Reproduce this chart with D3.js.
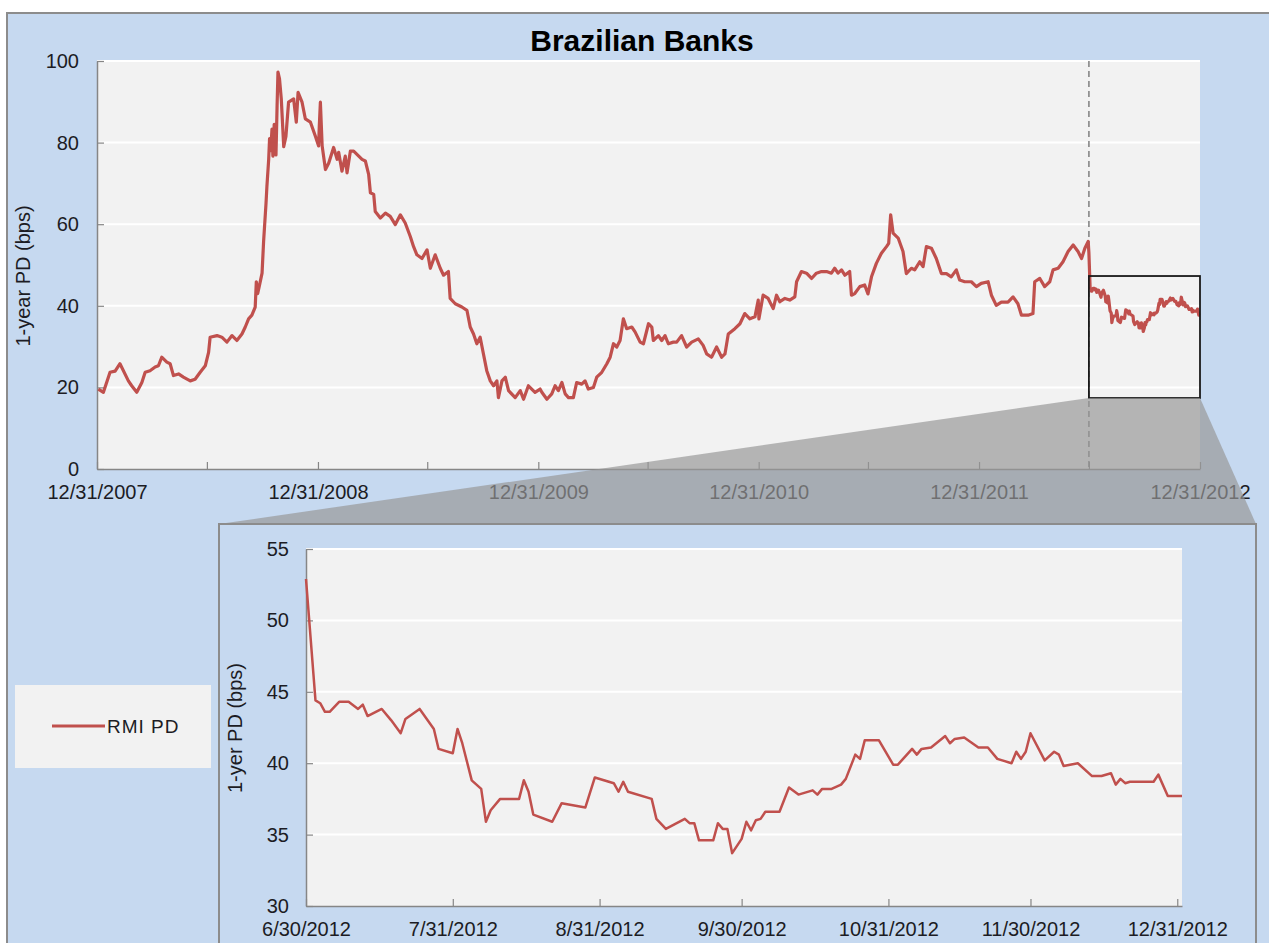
<!DOCTYPE html>
<html>
<head>
<meta charset="utf-8">
<script src="https://cdn.jsdelivr.net/npm/d3@7"></script>
<style>
  body { margin: 0; background: #fff; }
  text { font-family: "Liberation Sans", Arial, sans-serif; }
</style>
</head>
<body>
<div id="chart"></div>
<script>

// RMI PD history, Dec 2007 - Jun 2012 (decimal year, bps)
var rmiHistory = [
  [2008.006,19.6],[2008.029,18.8],[2008.059,23.7],[2008.082,24.0],[2008.104,25.8],[2008.142,21.6],
  [2008.157,20.4],[2008.180,18.8],[2008.203,21.2],[2008.218,23.7],[2008.240,24.1],[2008.263,25.0],
  [2008.278,25.3],[2008.293,27.4],[2008.316,26.2],[2008.331,25.8],[2008.346,22.9],[2008.369,23.3],
  [2008.391,22.5],[2008.422,21.6],[2008.444,22.0],[2008.467,23.7],[2008.490,25.3],[2008.505,28.6],
  [2008.512,32.3],[2008.543,32.7],[2008.565,32.3],[2008.588,31.1],[2008.611,32.7],[2008.633,31.5],
  [2008.656,33.1],[2008.671,34.8],[2008.686,36.8],[2008.701,37.7],[2008.716,39.7],[2008.721,45.9],
  [2008.727,43.0],[2008.734,44.7],[2008.747,48.0],[2008.754,55.8],[2008.765,65.2],[2008.769,69.3],
  [2008.777,75.9],[2008.781,81.0],[2008.786,78.0],[2008.792,83.3],[2008.796,76.7],[2008.802,84.5],
  [2008.810,77.0],[2008.815,89.0],[2008.819,97.3],[2008.826,95.6],[2008.834,90.7],[2008.845,79.0],
  [2008.855,81.5],[2008.867,89.9],[2008.890,90.7],[2008.902,85.0],[2008.910,92.3],[2008.928,89.9],
  [2008.943,85.8],[2008.966,85.0],[2008.988,81.6],[2009.003,79.2],[2009.006,84.0],[2009.011,89.9],
  [2009.019,79.2],[2009.034,73.4],[2009.049,75.0],[2009.071,78.8],[2009.087,75.9],[2009.094,77.6],
  [2009.109,73.0],[2009.124,76.7],[2009.132,72.6],[2009.147,77.9],[2009.162,77.9],[2009.185,76.7],
  [2009.200,75.9],[2009.215,75.5],[2009.230,72.2],[2009.238,67.7],[2009.253,67.3],[2009.260,63.1],
  [2009.283,61.5],[2009.306,62.7],[2009.328,61.9],[2009.351,59.9],[2009.374,62.3],[2009.396,60.3],
  [2009.419,57.0],[2009.434,54.5],[2009.449,52.5],[2009.472,51.6],[2009.495,53.7],[2009.510,49.2],
  [2009.532,52.5],[2009.555,49.2],[2009.570,47.5],[2009.592,48.4],[2009.600,41.8],[2009.623,40.5],
  [2009.653,39.7],[2009.676,38.9],[2009.691,34.8],[2009.706,33.1],[2009.721,30.7],[2009.736,32.3],
  [2009.751,28.2],[2009.766,24.1],[2009.782,21.6],[2009.797,20.4],[2009.812,21.6],[2009.819,17.5],
  [2009.835,21.6],[2009.850,22.5],[2009.865,19.2],[2009.895,17.5],[2009.918,19.2],[2009.933,17.1],
  [2009.955,20.4],[2009.985,18.8],[2010.008,19.6],[2010.016,18.8],[2010.039,17.1],[2010.061,18.4],
  [2010.076,20.4],[2010.091,19.2],[2010.107,21.2],[2010.122,18.4],[2010.137,17.5],[2010.159,17.5],
  [2010.174,21.2],[2010.197,20.8],[2010.212,21.6],[2010.227,19.6],[2010.250,20.0],[2010.265,22.5],
  [2010.288,23.7],[2010.311,25.8],[2010.326,27.4],[2010.341,30.7],[2010.356,29.9],[2010.371,31.5],
  [2010.386,36.8],[2010.401,34.4],[2010.424,34.8],[2010.439,33.6],[2010.462,31.1],[2010.477,30.7],
  [2010.500,35.6],[2010.515,34.8],[2010.522,31.5],[2010.545,32.7],[2010.560,31.5],[2010.575,32.7],
  [2010.590,30.7],[2010.613,31.1],[2010.628,31.1],[2010.650,32.7],[2010.673,29.9],[2010.696,31.1],
  [2010.726,31.9],[2010.748,30.3],[2010.764,28.2],[2010.786,27.4],[2010.809,29.9],[2010.832,27.4],
  [2010.847,28.2],[2010.862,33.1],[2010.892,34.4],[2010.915,35.6],[2010.937,38.1],[2010.960,36.8],
  [2010.983,37.3],[2010.998,41.4],[2011.001,36.8],[2011.020,42.6],[2011.043,41.8],[2011.066,39.3],
  [2011.081,42.6],[2011.096,41.0],[2011.119,41.8],[2011.141,41.4],[2011.164,42.2],[2011.172,45.9],
  [2011.194,48.4],[2011.217,48.0],[2011.240,46.7],[2011.262,48.0],[2011.285,48.4],[2011.308,48.4],
  [2011.330,48.0],[2011.345,49.2],[2011.360,48.0],[2011.376,48.8],[2011.391,47.5],[2011.413,48.4],
  [2011.421,42.6],[2011.436,43.0],[2011.459,44.7],[2011.481,45.1],[2011.496,42.9],[2011.512,47.1],
  [2011.534,50.4],[2011.557,52.9],[2011.580,54.5],[2011.590,55.3],[2011.599,62.3],[2011.610,57.8],
  [2011.633,56.6],[2011.655,53.3],[2011.670,47.9],[2011.693,49.2],[2011.708,48.8],[2011.731,50.8],
  [2011.746,49.6],[2011.761,54.5],[2011.784,54.1],[2011.806,51.6],[2011.829,47.9],[2011.852,47.9],
  [2011.874,47.1],[2011.897,48.8],[2011.912,46.3],[2011.935,45.9],[2011.965,45.9],[2011.988,44.7],
  [2012.010,45.5],[2012.041,45.9],[2012.056,42.6],[2012.078,40.1],[2012.101,40.9],[2012.131,40.9],
  [2012.154,42.2],[2012.176,40.5],[2012.192,37.7],[2012.222,37.7],[2012.244,38.1],[2012.252,45.9],
  [2012.275,46.7],[2012.297,44.7],[2012.320,45.9],[2012.335,48.8],[2012.358,49.2],[2012.380,50.8],
  [2012.403,53.3],[2012.426,54.9],[2012.448,53.3],[2012.464,51.6],[2012.479,54.1],[2012.494,55.8]
];

// RMI PD daily, Jun 30 2012 - Dec 31 2012 (date, bps)
var rmiZoom = [
  ["2012-06-30",52.9],["2012-07-02",44.4],["2012-07-03",44.2],["2012-07-04",43.6],["2012-07-05",43.6],
  ["2012-07-07",44.3],["2012-07-09",44.3],["2012-07-11",43.8],["2012-07-12",44.1],["2012-07-13",43.3],
  ["2012-07-16",43.8],["2012-07-18",43.0],["2012-07-20",42.1],["2012-07-21",43.1],["2012-07-24",43.8],
  ["2012-07-27",42.4],["2012-07-28",41.0],["2012-07-31",40.7],["2012-08-01",42.4],["2012-08-02",41.4],
  ["2012-08-04",38.8],["2012-08-06",38.2],["2012-08-07",35.9],["2012-08-08",36.7],["2012-08-10",37.5],
  ["2012-08-14",37.5],["2012-08-15",38.8],["2012-08-16",38.0],["2012-08-17",36.4],["2012-08-21",35.9],
  ["2012-08-23",37.2],["2012-08-28",36.9],["2012-08-30",39.0],["2012-09-03",38.6],["2012-09-04",38.0],
  ["2012-09-05",38.7],["2012-09-06",38.0],["2012-09-11",37.5],["2012-09-12",36.1],["2012-09-14",35.4],
  ["2012-09-18",36.1],["2012-09-19",35.8],["2012-09-20",35.8],["2012-09-21",34.6],["2012-09-24",34.6],
  ["2012-09-25",35.8],["2012-09-26",35.4],["2012-09-27",35.4],["2012-09-28",33.7],["2012-09-30",34.7],
  ["2012-10-01",35.9],["2012-10-02",35.3],["2012-10-03",36.0],["2012-10-04",36.1],["2012-10-05",36.6],
  ["2012-10-08",36.6],["2012-10-10",38.3],["2012-10-12",37.8],["2012-10-15",38.1],["2012-10-16",37.8],
  ["2012-10-17",38.2],["2012-10-19",38.2],["2012-10-21",38.5],["2012-10-22",38.9],["2012-10-24",40.6],
  ["2012-10-25",40.3],["2012-10-26",41.6],["2012-10-29",41.6],["2012-11-01",39.9],["2012-11-02",39.9],
  ["2012-11-05",41.0],["2012-11-06",40.6],["2012-11-07",41.0],["2012-11-09",41.1],["2012-11-12",41.9],
  ["2012-11-13",41.4],["2012-11-14",41.7],["2012-11-16",41.8],["2012-11-19",41.1],["2012-11-21",41.1],
  ["2012-11-23",40.3],["2012-11-26",40.0],["2012-11-27",40.8],["2012-11-28",40.3],["2012-11-29",40.8],
  ["2012-11-30",42.1],["2012-12-03",40.2],["2012-12-05",40.8],["2012-12-06",40.6],["2012-12-07",39.8],
  ["2012-12-10",40.0],["2012-12-13",39.1],["2012-12-15",39.1],["2012-12-17",39.3],["2012-12-18",38.5],
  ["2012-12-19",38.9],["2012-12-20",38.6],["2012-12-21",38.7],["2012-12-26",38.7],["2012-12-27",39.2],
  ["2012-12-29",37.7],["2012-12-31",37.7],["2013-01-01",37.7]
];

var topYTicks = [0, 20, 40, 60, 80, 100];
var topXTicks = ["2007-12-31","2008-06-30","2008-12-31","2009-06-30","2009-12-31","2010-06-30",
                 "2010-12-31","2011-06-30","2011-12-31","2012-06-30","2012-12-31"];
var topXLabels = ["12/31/2007","","12/31/2008","","12/31/2009","","12/31/2010","","12/31/2011","","12/31/2012"];

var zoomYTicks = [30, 35, 40, 45, 50, 55];
var zoomXTicks = ["2012-06-30","2012-07-31","2012-08-31","2012-09-30","2012-10-31","2012-11-30","2012-12-31"];
var zoomXLabels = ["6/30/2012","7/31/2012","8/31/2012","9/30/2012","10/31/2012","11/30/2012","12/31/2012"];

// highlighted window on the main chart
var zoomWindow = ["2012-06-30", "2012-12-31"];
var zoomWindowBps = [17.4, 47.3];

var seriesName = "RMI PD";

// ---------------------------------------------------------------

var svgWidth = 1269;
var svgHeight = 943;

var red = "#c0504d";
var blueBg = "#c6d9f0";
var plotBg = "#f2f2f2";
var axisGrey = "#868686";
var textColor = "#1c1c24";

var parseDate = d3.timeParse("%Y-%m-%d");

function yearToDate(t) {
  var yr = Math.floor(t);
  var s = new Date(yr, 0, 1), e = new Date(yr + 1, 0, 1);
  return new Date(+s + (t - yr) * (e - s) - 864e5);
}

var zoomData = rmiZoom.map(d => ({ date: parseDate(d[0]), value: d[1] }));
var topData = rmiHistory.map(d => ({ date: yearToDate(d[0]), value: d[1] })).concat(zoomData);

var svg = d3.select("#chart")
  .append("svg")
  .attr("width", svgWidth)
  .attr("height", svgHeight);

// outer frame
svg.append("rect")
  .attr("x", 7).attr("y", 13)
  .attr("width", 1280).attr("height", 1000)
  .attr("fill", blueBg)
  .attr("stroke", "#8c8c8c")
  .attr("stroke-width", 2);

// title
svg.append("text")
  .attr("x", 642).attr("y", 51)
  .attr("text-anchor", "middle")
  .style("font-size", "30px")
  .style("font-weight", "bold")
  .style("fill", "#000")
  .text("Brazilian Banks");

// ---------------- main chart ----------------
var mainBox = { left: 97, right: 1200, top: 61, bottom: 469 };

var xMain = d3.scaleTime()
  .domain([parseDate("2007-12-31"), parseDate("2012-12-31")])
  .range([mainBox.left, mainBox.right]);

var yMain = d3.scaleLinear()
  .domain([0, 100])
  .range([mainBox.bottom, mainBox.top]);

svg.append("rect")
  .attr("x", mainBox.left).attr("y", mainBox.top)
  .attr("width", mainBox.right - mainBox.left)
  .attr("height", mainBox.bottom - mainBox.top)
  .attr("fill", plotBg);

svg.append("g").selectAll("line")
  .data(topYTicks.filter(d => d > 0))
  .enter().append("line")
  .attr("x1", mainBox.left).attr("x2", mainBox.right)
  .attr("y1", d => yMain(d)).attr("y2", d => yMain(d))
  .attr("stroke", "#fff").attr("stroke-width", 2);

function styleAxis(g) {
  g.attr("color", axisGrey);
  g.select(".domain").attr("stroke-width", 1.5);
  g.selectAll(".tick line").attr("stroke-width", 1.2);
  g.selectAll("text")
    .style("font-size", "20px")
    .style("fill", textColor);
}

svg.append("g")
  .attr("transform", `translate(${mainBox.left},0)`)
  .call(d3.axisLeft(yMain).tickValues(topYTicks).tickSizeInner(-7).tickSizeOuter(0).tickPadding(18))
  .call(styleAxis);

svg.append("g")
  .attr("transform", `translate(0,${mainBox.bottom})`)
  .call(d3.axisBottom(xMain)
    .tickValues(topXTicks.map(parseDate))
    .tickFormat((d, i) => topXLabels[i])
    .tickSizeInner(-7).tickSizeOuter(0).tickPadding(16))
  .call(styleAxis);

svg.append("text")
  .attr("transform", "translate(30,276) rotate(-90)")
  .attr("text-anchor", "middle")
  .style("font-size", "20px")
  .style("fill", textColor)
  .text("1-year PD (bps)");

// dashed marker at start of zoom window
var zx0 = xMain(parseDate(zoomWindow[0]));
var zx1 = xMain(parseDate(zoomWindow[1]));
svg.append("line")
  .attr("x1", zx0).attr("x2", zx0)
  .attr("y1", mainBox.top).attr("y2", mainBox.bottom)
  .attr("stroke", "#7f7f7f")
  .attr("stroke-width", 1.5)
  .attr("stroke-dasharray", "6,4");

var mainLine = d3.line()
  .x(d => xMain(d.date))
  .y(d => yMain(d.value));

svg.append("path")
  .datum(topData.filter(d => d.date <= xMain.domain()[1]))
  .attr("d", mainLine)
  .attr("fill", "none")
  .attr("stroke", red)
  .attr("stroke-width", 3.2)
  .attr("stroke-linejoin", "round");

svg.append("rect")
  .attr("x", zx0).attr("y", yMain(zoomWindowBps[1]))
  .attr("width", zx1 - zx0)
  .attr("height", yMain(zoomWindowBps[0]) - yMain(zoomWindowBps[1]))
  .attr("fill", "none")
  .attr("stroke", "#1a1a1a")
  .attr("stroke-width", 1.8);

// ---------------- zoom panel ----------------
var panel = { left: 219, right: 1256, top: 524 };

// connector from the window to the panel
svg.append("polygon")
  .attr("points", [
    [zx0, yMain(zoomWindowBps[0])],
    [zx1, yMain(zoomWindowBps[0])],
    [panel.right, panel.top],
    [panel.left, panel.top]
  ].map(p => p.join(",")).join(" "))
  .attr("fill", "rgb(150,150,150)")
  .attr("fill-opacity", 0.68);

svg.append("rect")
  .attr("x", panel.left).attr("y", panel.top)
  .attr("width", panel.right - panel.left).attr("height", 500)
  .attr("fill", blueBg)
  .attr("stroke", "#8c8c8c")
  .attr("stroke-width", 2);

var zoomBox = { left: 306, right: 1182, top: 549, bottom: 906 };

var xZoom = d3.scaleTime()
  .domain([parseDate("2012-06-30"), parseDate("2013-01-01")])
  .range([zoomBox.left, zoomBox.right]);

var yZoom = d3.scaleLinear()
  .domain([30, 55])
  .range([zoomBox.bottom, zoomBox.top]);

svg.append("rect")
  .attr("x", zoomBox.left).attr("y", zoomBox.top)
  .attr("width", zoomBox.right - zoomBox.left)
  .attr("height", zoomBox.bottom - zoomBox.top)
  .attr("fill", plotBg);

svg.append("g").selectAll("line")
  .data(zoomYTicks.filter(d => d > 30))
  .enter().append("line")
  .attr("x1", zoomBox.left).attr("x2", zoomBox.right)
  .attr("y1", d => yZoom(d)).attr("y2", d => yZoom(d))
  .attr("stroke", "#fff").attr("stroke-width", 2);

svg.append("g")
  .attr("transform", `translate(${zoomBox.left},0)`)
  .call(d3.axisLeft(yZoom).tickValues(zoomYTicks).tickSizeInner(-7).tickSizeOuter(0).tickPadding(17))
  .call(styleAxis);

svg.append("g")
  .attr("transform", `translate(0,${zoomBox.bottom})`)
  .call(d3.axisBottom(xZoom)
    .tickValues(zoomXTicks.map(parseDate))
    .tickFormat((d, i) => zoomXLabels[i])
    .tickSizeInner(-7).tickSizeOuter(0).tickPadding(16))
  .call(styleAxis);

svg.append("text")
  .attr("transform", "translate(242,728) rotate(-90)")
  .attr("text-anchor", "middle")
  .style("font-size", "20px")
  .style("fill", textColor)
  .text("1-yer PD (bps)");

svg.append("path")
  .datum(zoomData)
  .attr("d", d3.line().x(d => xZoom(d.date)).y(d => yZoom(d.value)))
  .attr("fill", "none")
  .attr("stroke", red)
  .attr("stroke-width", 2.5)
  .attr("stroke-linejoin", "round");

// ---------------- legend ----------------
var legend = svg.append("g");
legend.append("rect")
  .attr("x", 15).attr("y", 685)
  .attr("width", 196).attr("height", 83)
  .attr("fill", plotBg);
legend.append("line")
  .attr("x1", 52).attr("x2", 105)
  .attr("y1", 726).attr("y2", 726)
  .attr("stroke", red).attr("stroke-width", 3);
legend.append("text")
  .attr("x", 107).attr("y", 726)
  .attr("dy", "0.36em")
  .style("font-size", "19px")
  .style("letter-spacing", "1px")
  .style("fill", textColor)
  .text(seriesName);

</script>
</body>
</html>
